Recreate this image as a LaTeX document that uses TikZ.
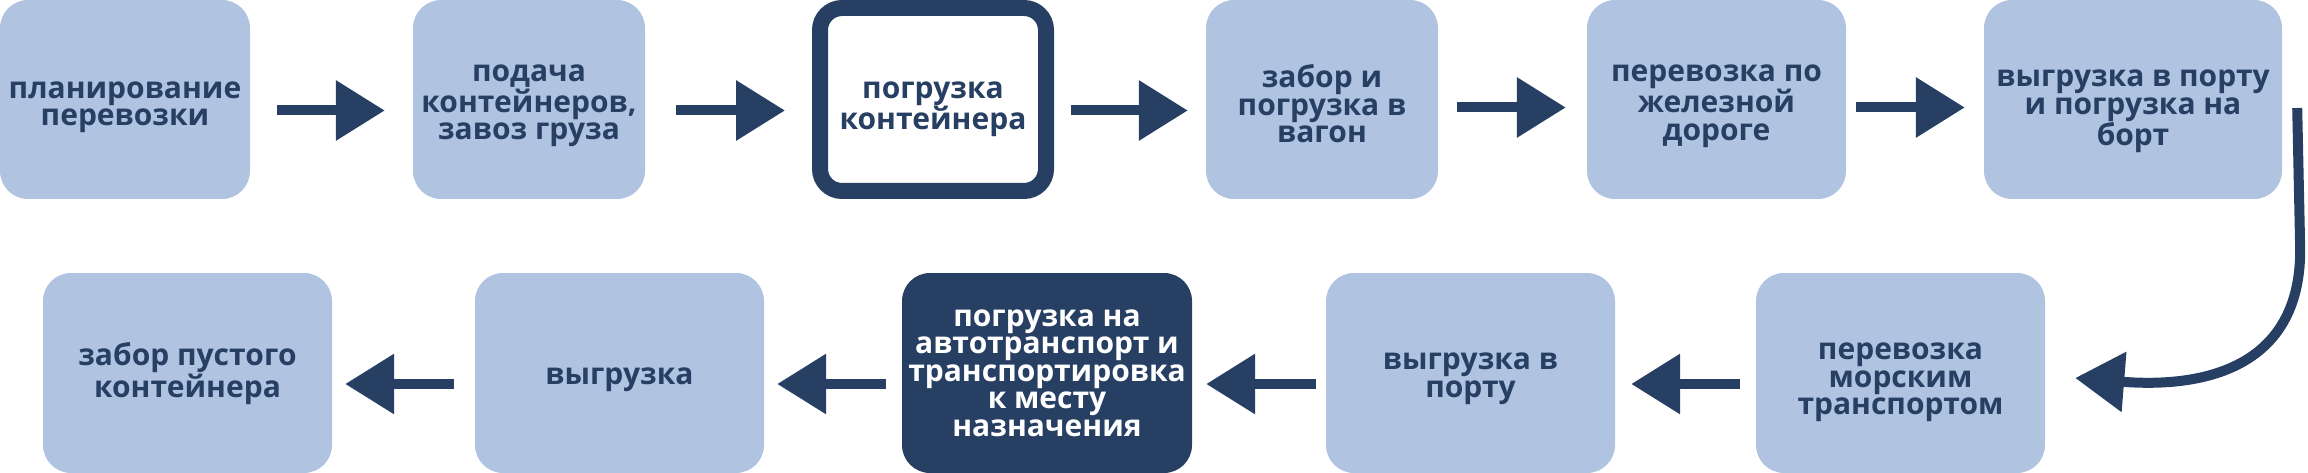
\documentclass[tikz,border=0pt]{standalone}
\usepackage{fontspec}
\setmainfont{Open Sans}
\usetikzlibrary{arrows.meta}
\definecolor{cLight}{HTML}{B0C4E2}
\definecolor{cNavy}{HTML}{263F63}
\newcommand{\tpad}[1]{\rule{0pt}{#1}}

\begin{document}
\begin{tikzpicture}[
  x=1pt, y=-1pt,
  every node/.style={font=\fontsize{30}{27.5}\selectfont\bfseries, text=cNavy, align=center, inner sep=0pt},
  box/.style={fill=cLight, rounded corners=28pt, minimum height=199pt},
  arrow/.style={-{Triangle[length=49pt,width=58pt]}, line width=10pt, draw=cNavy},
]

\useasboundingbox (0,0) rectangle (2308,473);

\node[box, minimum width=250pt] (plan) at (125,99.5) {\tpad{32pt}планирование\\перевозки};
\node[box, minimum width=232pt] (supply) at (529,99.5) {\tpad{30pt}подача\\контейнеров,\\завоз груза};
\node[draw=cNavy, line width=16pt, fill=white, rounded corners=22pt, minimum width=226pt, minimum height=183pt] (load) at (933,99.5) {\tpad{36pt}погрузка\\контейнера};
\node[box, minimum width=232pt] (wagon) at (1322,99.5) {\tpad{32pt}забор и\\погрузка в\\вагон};
\node[box, minimum width=259pt] (rail) at (1716.5,99.5) {\tpad{30pt}перевозка по\\железной\\дороге};
\node[box, minimum width=298pt] (board) at (2133,99.5) {\tpad{40pt}выгрузка в порту\\и погрузка на\\борт};

\node[box, minimum width=289pt, minimum height=200pt] (sea) at (1900.5,373) {\tpad{36pt}перевозка\\морским\\транспортом};
\node[box, minimum width=289pt, minimum height=200pt] (port) at (1470.5,373) {\tpad{28pt}выгрузка в\\порту};
\node[box, fill=cNavy, text=white, minimum width=290pt, minimum height=200pt] (truck) at (1047,373) {погрузка на\\автотранспорт и\\транспортировка\\к месту\\назначения};
\node[box, minimum width=289pt, minimum height=200pt] (unload) at (619.5,373) {\tpad{30pt}выгрузка};
\node[box, minimum width=289pt, minimum height=200pt] (empty) at (187.5,373) {\tpad{24pt}забор пустого\\контейнера};

\draw[arrow, shorten <=27pt, shorten >=28pt] ([yshift=-11pt]plan.east) -- ([yshift=-11pt]supply.west);
\draw[arrow, shorten <=31pt, shorten >=27pt] ([yshift=-11pt]supply.east) -- ([yshift=-11pt]load.west);
\draw[arrow, shorten <=17pt, shorten >=18pt] ([yshift=-11pt]load.east) -- ([yshift=-11pt]wagon.west);
\draw[arrow, shorten <=19pt, shorten >=21pt] ([yshift=-8pt]wagon.east) -- ([yshift=-8pt]rail.west);
\draw[arrow, shorten <=10pt, shorten >=19pt] ([yshift=-8pt]rail.east) -- ([yshift=-8pt]board.west);

\draw[arrow] ([xshift=15pt,yshift=-8.5pt]board.east) -- ++(3,142) .. controls +(0,120) and +(125,10) .. ([xshift=30pt,yshift=-5pt]sea.east);

\draw[arrow, shorten <=16pt, shorten >=16pt] ([yshift=-11pt]sea.west) -- ([yshift=-11pt]port.east);
\draw[arrow, shorten <=10pt, shorten >=14pt] ([yshift=-11pt]port.west) -- ([yshift=-11pt]truck.east);
\draw[arrow, shorten <=16pt, shorten >=13pt] ([yshift=-11pt]truck.west) -- ([yshift=-11pt]unload.east);
\draw[arrow, shorten <=21pt, shorten >=13pt] ([yshift=-11pt]unload.west) -- ([yshift=-11pt]empty.east);

\end{tikzpicture}
\end{document}
